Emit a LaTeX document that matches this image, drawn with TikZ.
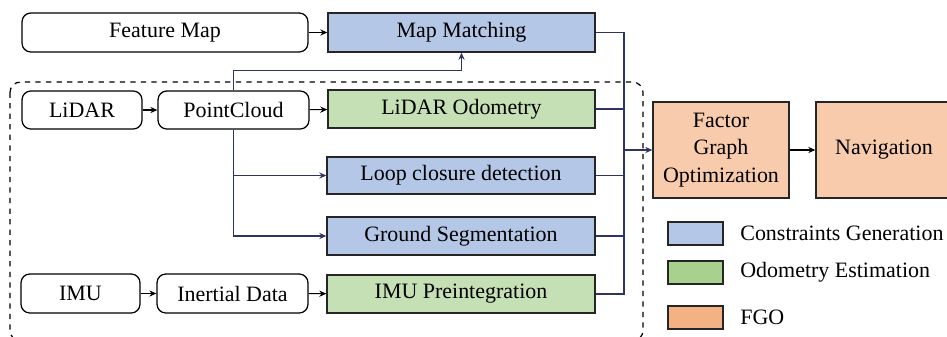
\documentclass[tikz,border=0pt]{standalone}
\usepackage{fontspec}
\setmainfont{Liberation Serif}
\usepackage{xcolor}
\usetikzlibrary{arrows.meta}
\definecolor{cgblue}{HTML}{B4C7E7}
\definecolor{oegreen}{HTML}{C5E0B4}
\definecolor{lggreen}{HTML}{A9D18E}
\definecolor{fgoorange}{HTML}{F8CBAD}
\definecolor{lgorange}{HTML}{F4B183}
\definecolor{busnavy}{HTML}{2E3462}
\begin{document}
\begin{tikzpicture}[x=0.02cm,y=-0.02cm,font=\fontsize{12.5}{15.5}\selectfont]
                \tikzstyle{data}=[draw,rounded corners=5pt,line width=0.7pt,inner sep=0pt]
                \tikzstyle{proc}=[draw=black!85,line width=0.8pt,inner sep=0pt,minimum height=0.76cm]
                \tikzstyle{flow}=[-{Stealth[length=4pt,width=3.5pt]},line width=0.6pt]
                \tikzstyle{bus}=[line width=0.7pt,draw=busnavy]
                \newcommand\legentry[3]{\node[proc,fill=#2,minimum width=1.1cm,minimum height=0.46cm] at (695.5,#1) (lg#1) {};%
                \node[anchor=west,inner sep=0pt] at (740,#1) {#3};}
                \useasboundingbox (0,0) rectangle (947,336);
                % grouping frame
                \draw[dashed,line width=0.7pt,rounded corners=6pt] (10,82) rectangle (643,341);
                % inputs
                \node[data,minimum width=5.72cm,minimum height=0.78cm] at (165,32.5) (featmap) {Feature Map};
                \node[data,minimum width=2.4cm,minimum height=0.76cm] at (82,110) (lidar) {LiDAR};
                \node[data,minimum width=3.02cm,minimum height=0.76cm] at (233.5,110) (pcloud) {PointCloud};
                \node[data,minimum width=2.38cm,minimum height=0.78cm] at (80.5,293.5) (imu) {IMU};
                \node[data,minimum width=3.02cm,minimum height=0.78cm] at (232.5,293.5) (inertial) {Inertial Data};
                % processing
                \node[proc,fill=cgblue,minimum width=5.34cm,minimum height=0.78cm] at (461.5,32.5) (mapmatch) {Map Matching};
                \node[proc,fill=oegreen,minimum width=5.34cm] at (461.5,109) (lodom) {LiDAR Odometry};
                \node[proc,fill=cgblue,minimum width=5.36cm,minimum height=0.74cm] at (461,175.5) (loop) {Loop closure detection};
                \node[proc,fill=cgblue,minimum width=5.36cm] at (461,236) (ground) {Ground Segmentation};
                \node[proc,fill=oegreen,minimum width=5.36cm] at (461,294) (imupre) {IMU Preintegration};
                \node[proc,fill=fgoorange,minimum width=2.72cm,minimum height=1.92cm,align=center] at (721,150) (fgo) {Factor\\Graph\\Optimization};
                \node[proc,fill=fgoorange,minimum width=2.72cm,minimum height=1.92cm] at (884,150) (nav) {Navigation};
                \coordinate (bus) at (624,150);
                % connectors
                \draw[flow] (featmap) -- (mapmatch);
                \draw[flow] (lidar) -- (pcloud);
                \draw[flow] (pcloud) -- (lodom);
                \draw[flow] (imu) -- (inertial);
                \draw[flow] (inertial) -- (imupre);
                \draw[flow] (fgo) -- (nav);
                \draw[bus,flow] (pcloud.north) -- ++(0,-20) -| (mapmatch.south);
                \draw[bus,flow] (pcloud.south) |- (loop.west);
                \draw[bus,flow] (pcloud.south) |- (ground.west);
                \draw[bus] (mapmatch.east) -| (bus) (imupre.east) -| (bus);
                \draw[bus] (lodom.east) -| (bus) (loop.east) -| (bus) (ground.east) -| (bus);
                \draw[bus,flow] (bus) -- (fgo.west);
                % legend
                \legentry{233.5}{cgblue}{Constraints Generation}
                \legentry{272.5}{lggreen}{Odometry Estimation}
                \legentry{317.5}{lgorange}{FGO}
            \end{tikzpicture}
\end{document}
